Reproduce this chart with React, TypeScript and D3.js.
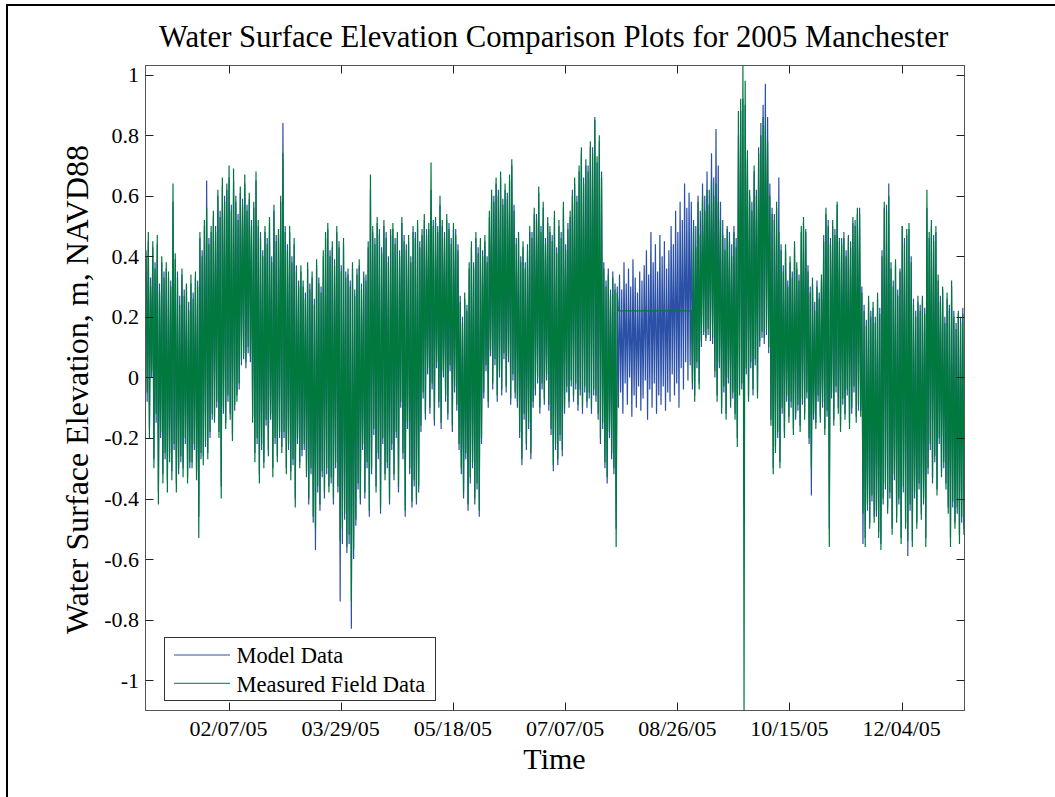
import React from 'react';
import * as d3 from 'd3';

const N = null;

// Daily high / low water surface elevation (m, NAVD88), day 0 = 01/01/05
const measHigh: (number | null)[] = [
  0.42, 0.48, 0.30, 0.45, 0.36, 0.47, 0.28, 0.40, 0.33, 0.38,
  0.35, 0.30, 0.64, 0.41, 0.33, 0.24, 0.36, 0.27, 0.31, 0.22,
  0.34, 0.26, 0.35, 0.30, 0.48, 0.40, 0.52, 0.56, 0.44, 0.50,
  0.55, 0.48, 0.62, 0.53, 0.66, 0.58, 0.64, 0.70, 0.55, 0.69,
  0.60, 0.52, 0.63, 0.57, 0.67, 0.55, 0.61, 0.50, 0.58, 0.68,
  0.52, 0.46, 0.40, 0.50, 0.44, 0.53, 0.38, 0.57, 0.45, 0.49,
  0.60, 0.74, 0.48, 0.42, 0.50, 0.38, 0.46, 0.35, 0.30, 0.37,
  0.32, 0.26, 0.38, 0.29, 0.35, 0.24, 0.39, 0.31, 0.28, 0.42,
  0.48, 0.51, 0.40, 0.45, 0.37, 0.50, 0.43, 0.35, 0.46, 0.33,
  0.36, 0.30, 0.38, 0.27, 0.34, 0.39, 0.29, 0.35, 0.32, 0.45,
  0.67, 0.50, 0.44, 0.53, 0.47, 0.41, 0.52, 0.46, 0.38, 0.49,
  0.51, 0.44, 0.48, 0.40, 0.53, 0.45, 0.42, 0.47, 0.38, 0.50,
  0.46, 0.52, 0.43, 0.49, 0.54, 0.47, 0.51, 0.71, 0.50, 0.53,
  0.48, 0.60, 0.52, 0.46, 0.54, 0.49, 0.44, 0.51, 0.47, 0.42,
  0.25, 0.18, 0.28, 0.22, 0.38, 0.45, 0.36, 0.48, 0.41, 0.46,
  0.40, 0.47, 0.38, 0.55, 0.62, 0.58, 0.66, 0.60, 0.68, 0.57,
  0.64, 0.59, 0.67, 0.72, 0.55, 0.44, 0.48, 0.38, 0.45, 0.36,
  0.42, 0.50, 0.46, 0.56, 0.52, 0.63, 0.48, 0.58, 0.44, 0.53,
  0.50, 0.45, 0.55, 0.41, 0.52, 0.46, 0.58, 0.42, 0.49, 0.55,
  0.60, 0.66, 0.58, 0.70, 0.76, 0.64, 0.72, 0.68, 0.78, 0.74,
  0.85, 0.73, 0.80, 0.66, 0.36, 0.30, 0.34, 0.27, 0.33, 0.29,
  0.28, N, N, N, N, N, N, N, N, N,
  N, N, N, N, N, N, N, N, N, N,
  N, N, N, N, N, N, N, N, N, N,
  N, N, N, 0.22, 0.50, 0.43, 0.58, 0.47, 0.60, 0.55,
  0.62, 0.57, 0.65, 0.60, 0.64, 0.58, 0.52, 0.47, 0.42, 0.49,
  0.45, 0.40, 0.48, 0.43, 0.88, 0.92, 1.03, 0.98, 0.75, 0.62,
  0.55, 0.70, 0.60, 0.74, 0.80, 0.86, 0.83, 0.78, 0.60, 0.54,
  0.52, 0.58, 0.48, 0.42, 0.35, 0.44, 0.30, 0.40, 0.33, 0.45,
  0.38, 0.32, 0.50, 0.53, 0.48, 0.35, 0.28, 0.33, 0.22, 0.30,
  0.26, 0.34, 0.45, 0.56, 0.50, 0.44, 0.52, 0.47, 0.58, 0.46,
  0.44, 0.48, 0.40, 0.46, 0.43, 0.53, 0.50, 0.56, 0.54, 0.28,
  0.22, 0.17, 0.27, 0.20, 0.25, 0.18, 0.28, 0.21, 0.40, 0.58,
  0.55, 0.60, 0.36, 0.30, 0.39, 0.27, 0.35, 0.50, 0.44, 0.49,
  0.51, 0.38, 0.24, 0.20, 0.27, 0.22, 0.26, 0.21, 0.62, 0.48,
  0.52, 0.45, 0.50, 0.34, 0.25, 0.30, 0.18, 0.28, 0.22, 0.32,
  0.20, 0.16, 0.22, 0.18, 0.21,
];

const measLow: (number | null)[] = [
  -0.05, -0.20, 0.02, -0.30, -0.12, -0.42, -0.18, -0.35, -0.25, -0.38,
  -0.28, -0.34, -0.22, -0.38, -0.30, -0.26, -0.33, -0.20, -0.35, -0.28,
  -0.30, -0.22, -0.34, -0.53, -0.25, -0.29, -0.21, -0.27, -0.18, -0.12,
  -0.15, -0.08, -0.20, -0.40, -0.10, -0.17, -0.06, -0.14, -0.21, -0.09,
  -0.08, -0.02, 0.06, 0.08, 0.05, 0.10, 0.07, -0.15, -0.28, -0.20,
  -0.35, -0.22, -0.30, -0.14, -0.26, -0.12, -0.33, -0.20, -0.28, -0.18,
  -0.25, -0.18, -0.32, -0.22, -0.34, -0.27, -0.43, -0.20, -0.30, -0.24,
  -0.22, -0.33, -0.40, -0.30, -0.46, -0.50, -0.36, -0.42, -0.31, -0.38,
  -0.30, -0.38, -0.33, -0.40, -0.28, -0.36, -0.54, -0.50, -0.45, -0.56,
  -0.52, -0.74, -0.57, -0.47, -0.35, -0.40, -0.22, -0.38, -0.28, -0.44,
  -0.30, -0.17, -0.38, -0.25, -0.43, -0.20, -0.34, -0.28, -0.40, -0.22,
  -0.32, -0.18, -0.36, -0.08, -0.25, -0.44, -0.15, -0.30, -0.41, -0.34,
  -0.40, -0.36, -0.16, -0.05, -0.12, 0.03, -0.10, -0.02, -0.14, 0.05,
  -0.08, -0.15, 0.02, -0.06, -0.12, 0.04, -0.16, -0.03, -0.09, -0.22,
  -0.30, -0.38, -0.25, -0.42, -0.33, -0.28, -0.40, -0.35, -0.44, -0.20,
  -0.05, 0.04, -0.08, 0.09, -0.02, 0.06, -0.06, 0.02, -0.04, 0.08,
  -0.03, 0.07, -0.07, 0.01, -0.05, -0.08, -0.18, -0.27, -0.12, -0.22,
  -0.15, -0.25, -0.08, -0.04, 0.00, -0.10, -0.02, -0.07, 0.01, -0.09,
  -0.17, -0.29, -0.22, -0.27, -0.19, -0.24, -0.10, -0.03, -0.08, -0.01,
  -0.06, -0.02, -0.09, -0.04, -0.10, -0.03, -0.08, -0.05, -0.10, -0.04,
  -0.06, -0.12, -0.20, -0.15, -0.28, -0.33, -0.18, -0.25, -0.30, -0.56,
  0.22, N, N, N, N, N, N, N, N, N,
  N, N, N, N, N, N, N, N, N, N,
  N, N, N, N, N, N, N, N, N, N,
  N, N, N, -0.02, -0.08, 0.05, -0.04, 0.12, 0.15, 0.13,
  0.16, 0.14, 0.13, 0.02, -0.08, 0.05, -0.12, -0.03, -0.14, 0.00,
  -0.10, -0.05, -0.14, -0.23, -0.06, -0.02, -1.10, 0.03, -0.08, 0.05,
  -0.04, 0.06, -0.07, 0.12, 0.15, 0.13, 0.16, 0.10, -0.16, -0.32,
  -0.25, -0.18, -0.30, -0.10, -0.20, -0.06, -0.15, -0.08, -0.19, -0.12,
  -0.09, -0.18, -0.07, -0.14, -0.05, -0.20, -0.30, -0.12, -0.17, -0.06,
  -0.15, -0.08, -0.19, -0.11, -0.56, -0.05, -0.16, -0.03, -0.12, -0.18,
  -0.07, -0.14, -0.04, -0.17, -0.10, -0.03, -0.15, -0.09, -0.13, -0.45,
  -0.56, -0.42, -0.50, -0.39, -0.48, -0.44, -0.53, -0.57, -0.40, -0.35,
  -0.45, -0.38, -0.52, -0.32, -0.48, -0.40, -0.55, -0.36, -0.50, -0.54,
  -0.42, -0.56, -0.38, -0.50, -0.35, -0.47, -0.40, -0.56, -0.30, -0.22,
  -0.35, -0.26, -0.39, -0.20, -0.33, -0.28, -0.37, -0.45, -0.56, -0.41,
  -0.50, -0.43, -0.55, -0.46, -0.52,
];

const modelHigh: number[] = [
  0.40, 0.45, 0.33, 0.43, 0.38, 0.44, 0.31, 0.38, 0.35, 0.36,
  0.33, 0.32, 0.58, 0.39, 0.35, 0.27, 0.34, 0.29, 0.30, 0.25,
  0.31, 0.28, 0.33, 0.32, 0.46, 0.42, 0.50, 0.65, 0.46, 0.48,
  0.53, 0.50, 0.60, 0.55, 0.63, 0.60, 0.62, 0.66, 0.57, 0.65,
  0.58, 0.54, 0.61, 0.59, 0.64, 0.57, 0.59, 0.52, 0.56, 0.65,
  0.50, 0.48, 0.42, 0.48, 0.46, 0.51, 0.40, 0.55, 0.47, 0.47,
  0.58, 0.84, 0.50, 0.44, 0.48, 0.40, 0.44, 0.37, 0.32, 0.35,
  0.30, 0.28, 0.36, 0.31, 0.33, 0.26, 0.37, 0.33, 0.30, 0.40,
  0.46, 0.49, 0.42, 0.43, 0.39, 0.48, 0.45, 0.37, 0.44, 0.35,
  0.34, 0.32, 0.36, 0.29, 0.36, 0.37, 0.31, 0.33, 0.34, 0.43,
  0.62, 0.48, 0.46, 0.51, 0.49, 0.43, 0.50, 0.48, 0.40, 0.47,
  0.49, 0.46, 0.46, 0.42, 0.51, 0.47, 0.44, 0.45, 0.40, 0.48,
  0.48, 0.50, 0.45, 0.47, 0.52, 0.49, 0.49, 0.62, 0.52, 0.51,
  0.50, 0.57, 0.50, 0.48, 0.52, 0.51, 0.46, 0.49, 0.49, 0.44,
  0.27, 0.20, 0.26, 0.24, 0.36, 0.43, 0.38, 0.46, 0.43, 0.44,
  0.42, 0.45, 0.40, 0.53, 0.60, 0.60, 0.64, 0.62, 0.66, 0.59,
  0.62, 0.61, 0.65, 0.70, 0.57, 0.46, 0.46, 0.40, 0.43, 0.38,
  0.44, 0.48, 0.48, 0.54, 0.54, 0.61, 0.50, 0.56, 0.46, 0.51,
  0.48, 0.47, 0.53, 0.43, 0.50, 0.48, 0.56, 0.44, 0.51, 0.53,
  0.62, 0.64, 0.60, 0.68, 0.74, 0.66, 0.70, 0.70, 0.76, 0.76,
  0.86, 0.71, 0.78, 0.68, 0.38, 0.32, 0.36, 0.29, 0.35, 0.31,
  0.30, 0.34, 0.29, 0.38, 0.31, 0.36, 0.30, 0.39, 0.33, 0.28,
  0.35, 0.32, 0.37, 0.42, 0.34, 0.48, 0.38, 0.44, 0.35, 0.47,
  0.40, 0.45, 0.36, 0.42, 0.50, 0.44, 0.55, 0.48, 0.58, 0.52,
  0.64, 0.56, 0.61, 0.58, 0.52, 0.50, 0.60, 0.55, 0.64, 0.60,
  0.68, 0.62, 0.74, 0.66, 0.82, 0.70, 0.58, 0.52, 0.46, 0.50,
  0.48, 0.44, 0.50, 0.46, 0.80, 0.88, 0.92, 0.90, 0.72, 0.60,
  0.58, 0.68, 0.62, 0.76, 0.84, 0.90, 0.97, 0.86, 0.64, 0.56,
  0.54, 0.56, 0.66, 0.44, 0.37, 0.42, 0.32, 0.38, 0.35, 0.43,
  0.36, 0.34, 0.48, 0.51, 0.49, 0.37, 0.30, 0.31, 0.25, 0.32,
  0.28, 0.32, 0.47, 0.54, 0.52, 0.46, 0.50, 0.49, 0.57, 0.45,
  0.46, 0.46, 0.42, 0.47, 0.45, 0.51, 0.52, 0.54, 0.56, 0.30,
  0.24, 0.19, 0.25, 0.22, 0.23, 0.20, 0.26, 0.23, 0.42, 0.56,
  0.57, 0.64, 0.38, 0.32, 0.37, 0.29, 0.36, 0.50, 0.46, 0.47,
  0.49, 0.40, 0.26, 0.22, 0.25, 0.24, 0.27, 0.23, 0.56, 0.46,
  0.50, 0.47, 0.48, 0.32, 0.27, 0.29, 0.20, 0.26, 0.24, 0.30,
  0.22, 0.18, 0.21, 0.20, 0.23,
];

const modelLow: number[] = [
  -0.08, -0.17, 0.00, -0.27, -0.15, -0.38, -0.20, -0.32, -0.27, -0.34,
  -0.25, -0.31, -0.24, -0.35, -0.32, -0.28, -0.30, -0.22, -0.33, -0.30,
  -0.28, -0.24, -0.31, -0.46, -0.27, -0.26, -0.23, -0.25, -0.20, -0.14,
  -0.13, -0.10, -0.18, -0.36, -0.12, -0.15, -0.08, -0.12, -0.19, -0.11,
  -0.06, -0.04, 0.04, 0.06, 0.03, 0.08, 0.05, -0.13, -0.25, -0.22,
  -0.32, -0.24, -0.28, -0.16, -0.24, -0.14, -0.30, -0.22, -0.26, -0.20,
  -0.23, -0.20, -0.30, -0.24, -0.31, -0.29, -0.40, -0.22, -0.28, -0.26,
  -0.24, -0.31, -0.42, -0.32, -0.48, -0.57, -0.38, -0.44, -0.33, -0.40,
  -0.32, -0.36, -0.35, -0.42, -0.30, -0.38, -0.74, -0.55, -0.47, -0.58,
  -0.55, -0.83, -0.60, -0.49, -0.37, -0.42, -0.24, -0.40, -0.30, -0.46,
  -0.32, -0.19, -0.36, -0.27, -0.45, -0.22, -0.32, -0.30, -0.42, -0.24,
  -0.34, -0.20, -0.38, -0.10, -0.27, -0.46, -0.17, -0.32, -0.43, -0.36,
  -0.42, -0.38, -0.18, -0.07, -0.14, 0.01, -0.12, -0.04, -0.16, 0.03,
  -0.10, -0.17, 0.00, -0.08, -0.14, 0.02, -0.18, -0.05, -0.11, -0.24,
  -0.32, -0.40, -0.27, -0.44, -0.35, -0.30, -0.42, -0.37, -0.46, -0.22,
  -0.07, 0.02, -0.10, 0.07, -0.04, 0.04, -0.08, 0.00, -0.06, 0.06,
  -0.05, 0.05, -0.09, -0.01, -0.07, -0.10, -0.20, -0.29, -0.14, -0.24,
  -0.17, -0.27, -0.10, -0.06, -0.02, -0.12, -0.04, -0.09, -0.01, -0.11,
  -0.19, -0.31, -0.24, -0.29, -0.21, -0.26, -0.12, -0.05, -0.10, -0.03,
  -0.08, -0.04, -0.11, -0.06, -0.12, -0.05, -0.10, -0.07, -0.12, -0.06,
  -0.08, -0.14, -0.22, -0.17, -0.30, -0.35, -0.20, -0.27, -0.32, -0.50,
  -0.10, -0.05, -0.12, -0.02, -0.09, 0.00, -0.13, -0.06, -0.10, -0.03,
  -0.11, -0.07, -0.01, -0.14, -0.04, -0.10, -0.02, -0.12, -0.06, -0.09,
  -0.03, -0.11, -0.05, -0.08, 0.01, -0.06, -0.02, -0.10, 0.03, -0.04,
  0.05, -0.01, 0.04, -0.04, -0.06, 0.03, -0.02, 0.10, 0.14, 0.12,
  0.14, 0.12, 0.11, 0.00, -0.06, 0.03, -0.10, -0.05, -0.12, -0.02,
  -0.08, -0.07, -0.12, -0.20, -0.04, -0.04, -0.42, 0.01, -0.06, 0.03,
  -0.06, 0.04, -0.05, 0.10, 0.13, 0.11, 0.14, 0.08, -0.14, -0.30,
  -0.23, -0.20, -0.28, -0.12, -0.18, -0.08, -0.13, -0.10, -0.17, -0.14,
  -0.11, -0.16, -0.09, -0.12, -0.07, -0.22, -0.39, -0.14, -0.15, -0.08,
  -0.13, -0.10, -0.17, -0.13, -0.50, -0.07, -0.14, -0.05, -0.10, -0.16,
  -0.09, -0.12, -0.06, -0.15, -0.12, -0.05, -0.13, -0.11, -0.11, -0.55,
  -0.53, -0.44, -0.48, -0.41, -0.46, -0.46, -0.51, -0.55, -0.42, -0.37,
  -0.43, -0.40, -0.50, -0.34, -0.46, -0.42, -0.53, -0.38, -0.48, -0.59,
  -0.44, -0.54, -0.40, -0.48, -0.37, -0.45, -0.42, -0.53, -0.32, -0.24,
  -0.33, -0.28, -0.37, -0.22, -0.31, -0.30, -0.35, -0.43, -0.53, -0.43,
  -0.48, -0.45, -0.52, -0.48, -0.50,
];

const xTickLabels = ['02/07/05', '03/29/05', '05/18/05', '07/07/05', '08/26/05', '10/15/05', '12/04/05'];
const yTickValues = [-1, -0.8, -0.6, -0.4, -0.2, 0, 0.2, 0.4, 0.6, 0.8, 1];
const seriesNames = ['Model Data', 'Measured Field Data'];
const seriesColors = ['#2a50a8', '#007a3c'];

const titleText = 'Water Surface Elevation Comparison Plots for 2005 Manchester';
const xLabelText = 'Time';
const yLabelText = 'Water Surface Elevation, m, NAVD88';

const FONT = "'Times New Roman', 'Liberation Serif', serif";

export default function App() {
  const W = 1055;
  const H = 797;
  const L = 145.5, R = 964.5, T = 65.5, B = 710.5;
  const start = new Date(2005, 0, 1);
  const end = new Date(2006, 0, 1);
  const dayMs = 86400000;

  const x = d3.scaleTime().domain([start, end]).range([L, R]);
  const allVals = [...measHigh, ...measLow, ...modelHigh, ...modelLow].filter((v) => v != null) as number[];
  const ext = d3.extent(allVals) as [number, number];
  const y = d3.scaleLinear().domain(ext).range([B, T]);

  const toPoints = (hi: (number | null)[], lo: (number | null)[]) => {
    const pts: [Date, number][] = [];
    hi.forEach((h, i) => {
      if (h != null) pts.push([new Date(start.getTime() + (i + 0.25) * dayMs), h]);
      const l = lo[i];
      if (l != null) pts.push([new Date(start.getTime() + (i + 0.75) * dayMs), l]);
    });
    return pts;
  };

  const line = d3
    .line<[Date, number]>()
    .x((p) => x(p[0]))
    .y((p) => y(p[1]));

  const modelPath = line(toPoints(modelHigh, modelLow)) || '';
  const measPath = line(toPoints(measHigh, measLow)) || '';

  const parse = d3.timeParse('%m/%d/%y');
  const xTicks = xTickLabels.map((lab) => ({ lab, px: x(parse(lab) as Date) }));
  const fmtY = (v: number) => String(Math.round(v * 10) / 10);
  const tickLen = 8;
  const axisColor = '#555';

  return (
    <svg
      width={W}
      height={H}
      style={{ position: 'absolute', left: 0, top: 0, display: 'block', background: '#fff' }}
      fontFamily={FONT}
    >
      <rect x={0} y={0} width={W} height={H} fill="#fff" />
      <rect x={7} y={5} width={1100} height={900} fill="none" stroke="#000" strokeWidth={2} />

      <defs>
        <clipPath id="plotclip">
          <rect x={L} y={T} width={R - L} height={B - T} />
        </clipPath>
      </defs>

      <g clipPath="url(#plotclip)">
        <path d={modelPath} fill="none" stroke={seriesColors[0]} strokeWidth={1.2} />
        <path d={measPath} fill="none" stroke={seriesColors[1]} strokeWidth={1.2} />
      </g>

      {/* axes box */}
      <rect x={L} y={T} width={R - L} height={B - T} fill="none" stroke={axisColor} strokeWidth={1} />

      {/* x ticks */}
      {xTicks.map((t) => (
        <g key={t.lab}>
          <line x1={Math.round(t.px) + 0.5} x2={Math.round(t.px) + 0.5} y1={B} y2={B - tickLen} stroke="#222" />
          <line x1={Math.round(t.px) + 0.5} x2={Math.round(t.px) + 0.5} y1={T} y2={T + tickLen} stroke="#222" />
          <text x={t.px} y={736} fontSize={22} textAnchor="middle" fill="#000">
            {t.lab}
          </text>
        </g>
      ))}

      {/* y ticks */}
      {yTickValues.map((v) => {
        const py = Math.round(y(v)) + 0.5;
        return (
          <g key={v}>
            <line x1={L} x2={L + tickLen} y1={py} y2={py} stroke="#222" />
            <line x1={R} x2={R - tickLen} y1={py} y2={py} stroke="#222" />
            <text x={139} y={y(v) + 7.5} fontSize={22} textAnchor="end" fill="#000">
              {fmtY(v)}
            </text>
          </g>
        );
      })}

      {/* title and labels */}
      <text x={553.5} y={46.5} fontSize={30.7} textAnchor="middle" fill="#000">
        {titleText}
      </text>
      <text x={554.5} y={769} fontSize={30} textAnchor="middle" fill="#000">
        {xLabelText}
      </text>
      <text transform="translate(88,389.5) rotate(-90)" fontSize={32} textAnchor="middle" fill="#000">
        {yLabelText}
      </text>

      {/* legend */}
      <g>
        <rect x={164.5} y={637.5} width={271} height={63} fill="#fff" stroke="#333" strokeWidth={1} />
        {seriesNames.map((name, i) => (
          <g key={name}>
            <line x1={174} x2={230} y1={655 + i * 28.3} y2={655 + i * 28.3} stroke={seriesColors[i]} strokeWidth={1} />
            <text x={236.5} y={663.3 + i * 28.4} fontSize={22.5} fill="#000">
              {name}
            </text>
          </g>
        ))}
      </g>
    </svg>
  );
}
